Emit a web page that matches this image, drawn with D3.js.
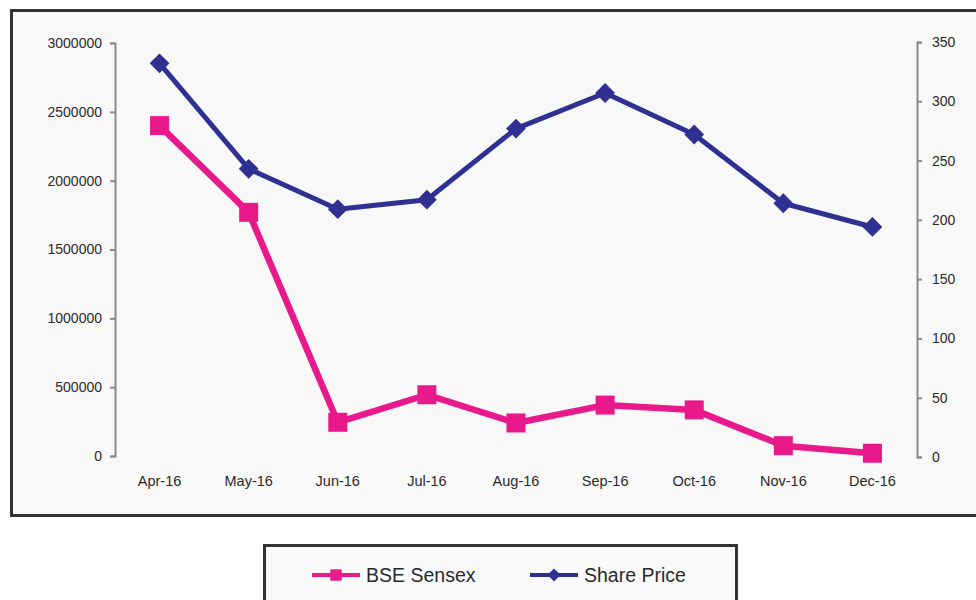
<!DOCTYPE html>
<html>
<head>
<meta charset="utf-8">
<script src="https://cdn.jsdelivr.net/npm/d3@7"></script>
<style>
  body { margin: 0; background: #fff; }
  svg { display: block; font-family: "Liberation Sans", Arial, sans-serif; }
</style>
</head>
<body>
<svg width="976" height="600"></svg>
<script>
var months = ['Apr-16', 'May-16', 'Jun-16', 'Jul-16', 'Aug-16', 'Sep-16', 'Oct-16', 'Nov-16', 'Dec-16']
var sensex = [2400000, 1770000, 245000, 445000, 240000, 370000, 335000, 75000, 20000]
var sharePrice = [332, 243, 209, 217, 277, 307, 272, 214, 194]
var leftTicks = [0, 500000, 1000000, 1500000, 2000000, 2500000, 3000000]
var rightTicks = [0, 50, 100, 150, 200, 250, 300, 350]

var pink = '#e8198b'
var blue = '#2e3192'

var svg = d3.select('svg')

// outer frame
svg.append('rect')
  .attr('x', 11.5).attr('y', 10.5)
  .attr('width', 990).attr('height', 505)
  .attr('fill', '#f8f8f8')
  .attr('stroke', '#333').attr('stroke-width', 3)

var x = d3.scaleBand().domain(months).range([115, 917])
var yL = d3.scaleLinear().domain([0, 3000000]).range([456, 43])
var yR = d3.scaleLinear().domain([0, 350]).range([457, 42])

var cx = function (d) { return x(d) + x.bandwidth() / 2 }

// axes
var leftAxis = svg.append('g')
  .attr('transform', 'translate(115,0)')
  .call(d3.axisLeft(yL).tickValues(leftTicks).tickSize(5).tickPadding(8).tickFormat(d3.format('d')))
var rightAxis = svg.append('g')
  .attr('transform', 'translate(917,0)')
  .call(d3.axisRight(yR).tickValues(rightTicks).tickSize(5).tickPadding(10).tickFormat(d3.format('d')))

;[leftAxis, rightAxis].forEach(function (g) {
  g.select('.domain').attr('stroke', '#8a8a8a').attr('stroke-width', 2)
  g.selectAll('.tick line').attr('stroke', '#8a8a8a').attr('stroke-width', 2)
  g.selectAll('.tick text').attr('fill', '#2a2a2a').style('font-size', '14px')
})

svg.append('g').selectAll('text')
  .data(months)
  .enter().append('text')
  .attr('x', cx)
  .attr('y', 486)
  .attr('text-anchor', 'middle')
  .attr('fill', '#2a2a2a')
  .style('font-size', '14.5px')
  .text(function (d) { return d })

// BSE Sensex line
var lineL = d3.line()
  .x(function (d, i) { return cx(months[i]) })
  .y(function (d) { return yL(d) })

svg.append('path')
  .datum(sensex)
  .attr('d', lineL)
  .attr('fill', 'none')
  .attr('stroke', pink)
  .attr('stroke-width', 6.5)
  .attr('stroke-linejoin', 'round')

svg.append('g').selectAll('rect')
  .data(sensex)
  .enter().append('rect')
  .attr('x', function (d, i) { return cx(months[i]) - 9.5 })
  .attr('y', function (d) { return yL(d) - 9.5 })
  .attr('width', 19).attr('height', 19)
  .attr('fill', pink)

// Share price line
var lineR = d3.line()
  .x(function (d, i) { return cx(months[i]) })
  .y(function (d) { return yR(d) })

svg.append('path')
  .datum(sharePrice)
  .attr('d', lineR)
  .attr('fill', 'none')
  .attr('stroke', blue)
  .attr('stroke-width', 5)
  .attr('stroke-linejoin', 'round')

var diamond = d3.symbol().type(d3.symbolDiamond2).size(250)
svg.append('g').selectAll('path')
  .data(sharePrice)
  .enter().append('path')
  .attr('transform', function (d, i) { return 'translate(' + cx(months[i]) + ',' + yR(d) + ')' })
  .attr('d', diamond)
  .attr('fill', blue)

// legend
svg.append('rect')
  .attr('x', 264.5).attr('y', 545.5)
  .attr('width', 472).attr('height', 80)
  .attr('fill', '#fafafa')
  .attr('stroke', '#333').attr('stroke-width', 3)

var legend = [
  { name: 'BSE Sensex', color: pink, x: 312, shape: 'square' },
  { name: 'Share Price', color: blue, x: 530, shape: 'diamond' }
]

var lg = svg.append('g').selectAll('g')
  .data(legend)
  .enter().append('g')
  .attr('transform', function (d) { return 'translate(' + d.x + ',575)' })

lg.append('line')
  .attr('x1', 0).attr('x2', 48)
  .attr('stroke', function (d) { return d.color })
  .attr('stroke-width', 4)

lg.append('path')
  .attr('transform', 'translate(24,0)')
  .attr('d', function (d) {
    return d.shape === 'square'
      ? d3.symbol().type(d3.symbolSquare).size(130)()
      : d3.symbol().type(d3.symbolDiamond2).size(110)()
  })
  .attr('fill', function (d) { return d.color })

lg.append('text')
  .attr('x', 54)
  .attr('y', 7)
  .attr('fill', '#2a2a2a')
  .style('font-size', '19.5px')
  .text(function (d) { return d.name })
</script>
</body>
</html>
